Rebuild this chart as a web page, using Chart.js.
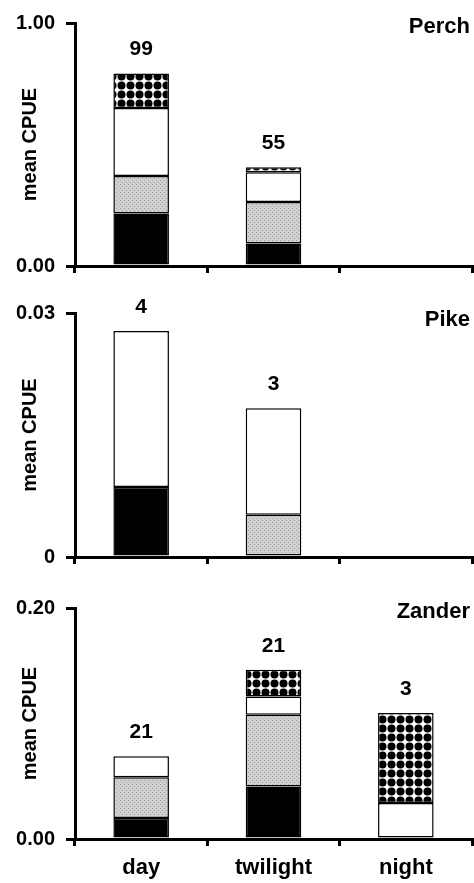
<!DOCTYPE html>
<html>
<head>
<meta charset="utf-8">
<script src="https://cdn.jsdelivr.net/npm/chart.js@4.4.0/dist/chart.umd.min.js"></script>
<style>
  body { margin: 0; background: #fff; }
  #wrap { position: relative; width: 474px; height: 883px; }
  canvas { position: absolute; left: 0; }
</style>
</head>
<body>
<div id="wrap">
  <canvas id="perch" width="474" height="290" style="top:0px;width:474px;height:290px"></canvas>
  <canvas id="pike" width="474" height="290" style="top:290px;width:474px;height:290px"></canvas>
  <canvas id="zander" width="474" height="303" style="top:580px;width:474px;height:303px"></canvas>
</div>
<script>
// categories
const categories = ['day', 'twilight', 'night'];

// Perch (stack bottom to top: black, grey, white, dotted)
const perchBlack = [0.216, 0.093, null];
const perchGrey = [0.154, 0.170, null];
const perchWhite = [0.280, 0.123, null];
const perchDotted = [0.142, 0.020, null];
const perchN = [99, 55, null];
const perchTicks = ['0.00', '1.00'];
const perchMax = 1.0;

// Pike
const pikeBlack = [0.0086, null, null];
const pikeGrey = [null, 0.0052, null];
const pikeWhite = [0.0192, 0.0131, null];
const pikeDotted = [null, null, null];
const pikeN = [4, 3, null];
const pikeTicks = ['0', '0.03'];
const pikeMax = 0.03;

// Zander
const zanderBlack = [0.0182, 0.0455, null];
const zanderGrey = [0.0352, 0.0621, null];
const zanderWhite = [0.0182, 0.0158, 0.0312];
const zanderDotted = [null, 0.0231, 0.0779];
const zanderN = [21, 21, 3];
const zanderTicks = ['0.00', '0.20'];
const zanderMax = 0.20;

const FONT = "'Liberation Sans', Arial, sans-serif";

// dotted fill pattern
function dotPattern() {
    var c = document.createElement('canvas');
    c.width = 9; c.height = 9;
    var g = c.getContext('2d');
    g.fillStyle = '#fff';
    g.fillRect(0, 0, 9, 9);
    g.fillStyle = '#000';
    g.beginPath();
    g.arc(4.5, 4.5, 4.0, 0, Math.PI * 2);
    g.fill();
    return g.createPattern(c, 'repeat');
}

// stippled grey fill
function greyPattern() {
    var c = document.createElement('canvas');
    c.width = 4; c.height = 4;
    var g = c.getContext('2d');
    g.fillStyle = '#d0d0d0';
    g.fillRect(0, 0, 4, 4);
    g.fillStyle = '#a0a0a0';
    g.fillRect(0, 0, 1, 1);
    g.fillRect(2, 2, 1, 1);
    return g.createPattern(c, 'repeat');
}

const dots = dotPattern();
const grey = greyPattern();

// n numbers above bars and the species name
const panelText = {
    id: 'panelText',
    afterDatasetsDraw(chart, args, opts) {
        var ctx = chart.ctx;
        var x = chart.scales.x, y = chart.scales.y;
        ctx.save();
        ctx.fillStyle = '#000';
        ctx.font = 'bold 21px ' + FONT;
        ctx.textAlign = 'center';
        ctx.textBaseline = 'middle';
        opts.n.forEach(function(n, i) {
            if (n == null) return;
            var sum = 0;
            chart.data.datasets.forEach(function(ds) { sum += ds.data[i] || 0; });
            ctx.fillText(String(n), x.getPixelForValue(i), y.getPixelForValue(sum) - 24);
        });
        ctx.font = 'bold 22px ' + FONT;
        ctx.textAlign = 'right';
        ctx.fillText(opts.name, chart.chartArea.right - 2, chart.chartArea.top + opts.nameDy);
        ctx.restore();
    }
};

function makePanel(id, name, nameDy, black, greyVals, white, dotted, n, tickLabels, max, padTop, xHeight, showX) {
    var ctx = document.getElementById(id).getContext('2d');
    var seg = { borderColor: '#000', borderWidth: 1.5, borderSkipped: false };
    return new Chart(ctx, {
        type: 'bar',
        data: {
            labels: categories,
            datasets: [
                Object.assign({ data: black, backgroundColor: '#000' }, seg),
                Object.assign({ data: greyVals, backgroundColor: grey }, seg),
                Object.assign({ data: white, backgroundColor: '#fff' }, seg),
                Object.assign({ data: dotted, backgroundColor: dots }, seg)
            ]
        },
        plugins: [panelText],
        options: {
            responsive: false,
            animation: false,
            categoryPercentage: 1.0,
            barPercentage: 0.42,
            layout: { padding: { top: padTop, left: 0, right: 2, bottom: 0 } },
            plugins: {
                legend: { display: false },
                tooltip: { enabled: false },
                panelText: { n: n, name: name, nameDy: nameDy }
            },
            scales: {
                x: {
                    stacked: true,
                    offset: true,
                    afterFit: function(s) { s.height = xHeight; },
                    border: { display: true, color: '#000', width: 3 },
                    grid: { offset: true, drawOnChartArea: false, drawTicks: true, tickLength: 7, tickWidth: 3, tickColor: '#000', lineWidth: 3, color: '#000' },
                    ticks: {
                        color: '#000',
                        padding: 9,
                        font: { family: FONT, size: 22, weight: 'bold' },
                        callback: function(v, i) { return showX ? categories[i] : ''; }
                    }
                },
                y: {
                    stacked: true,
                    min: 0,
                    max: max,
                    afterFit: function(s) { s.width = 75; },
                    afterBuildTicks: function(s) { s.ticks = [{ value: 0 }, { value: max }]; },
                    border: { display: true, color: '#000', width: 3 },
                    grid: { drawOnChartArea: false, drawTicks: true, tickLength: 9, tickWidth: 3, tickColor: '#000', lineWidth: 3, color: '#000' },
                    ticks: {
                        color: '#000',
                        padding: 11,
                        font: { family: FONT, size: 20, weight: 'bold' },
                        callback: function(v, i) { return tickLabels[i]; }
                    },
                    title: {
                        display: true,
                        text: 'mean CPUE',
                        color: '#000',
                        font: { family: FONT, size: 20, weight: 'bold' },
                        padding: { top: 18, bottom: 0 }
                    }
                }
            }
        }
    });
}

makePanel('perch', 'Perch', 4, perchBlack, perchGrey, perchWhite, perchDotted, perchN, perchTicks, perchMax, 22, 24, false);
makePanel('pike', 'Pike', 7, pikeBlack, pikeGrey, pikeWhite, pikeDotted, pikeN, pikeTicks, pikeMax, 23, 23, false);
makePanel('zander', 'Zander', 4, zanderBlack, zanderGrey, zanderWhite, zanderDotted, zanderN, zanderTicks, zanderMax, 28, 44, true);
</script>
</body>
</html>
